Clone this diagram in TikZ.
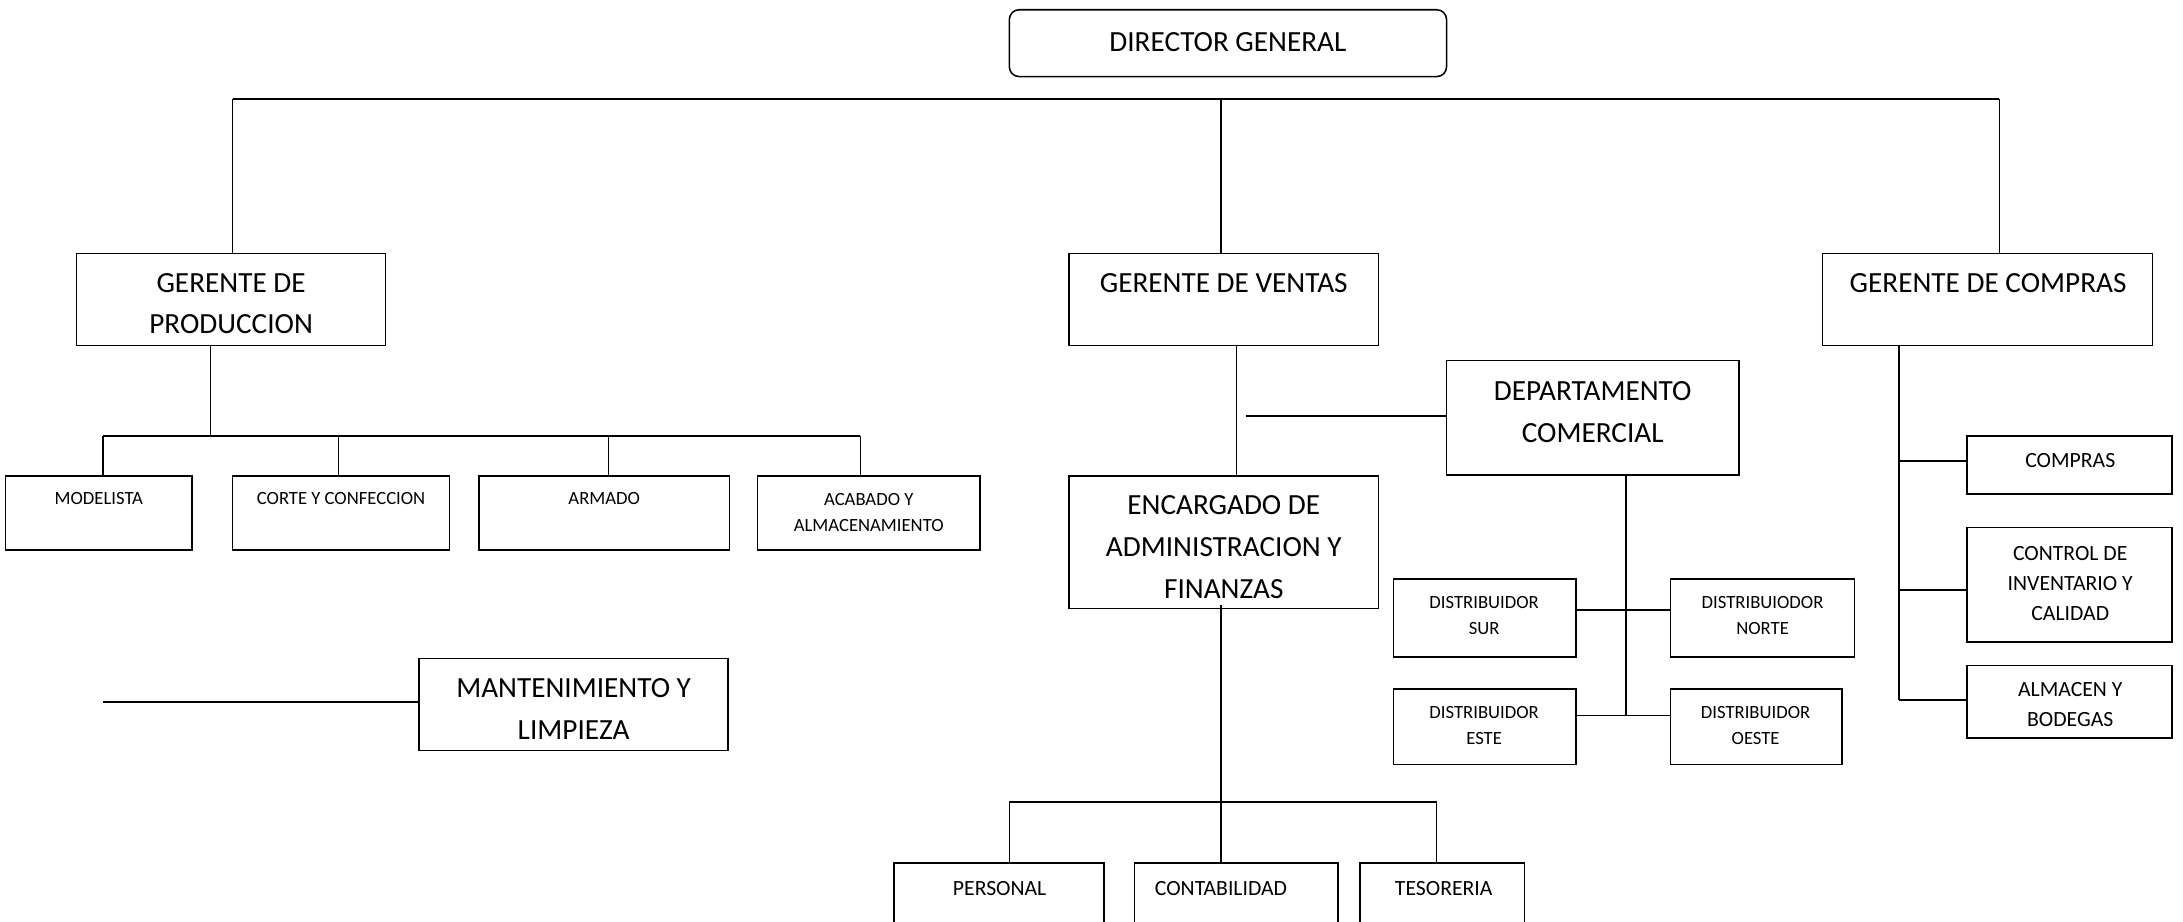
\documentclass[tikz,border=0pt]{standalone}
\usepackage{fontspec}
\setmainfont{Carlito}
\newcommand{\bigf}{\fontsize{21}{30}\selectfont}
\newcommand{\medf}{\fontsize{15.6}{21.5}\selectfont}
\newcommand{\smlf}{\fontsize{13.4}{19}\selectfont}
\begin{document}
\begin{tikzpicture}[x=1pt,y=-1pt,
  box/.style={draw, line width=1.1pt, inner sep=0pt},
  txt/.style={inner sep=0pt, align=center},
  conn/.style={line width=1pt},
  hconn/.style={line width=1.2pt}]
\useasboundingbox (0,0) rectangle (1568,662);
\clip (0,0) rectangle (1568,662);
\fill[white] (0,0) rectangle (1568,662);

% boxes
\node[box, rounded corners=7pt, minimum width=314pt, minimum height=48pt] (dir) at (882,31) {};
\node[txt, font=\bigf] (dir-t) at (882,30) {DIRECTOR GENERAL};

\node[box, minimum width=222pt, minimum height=66pt] (gprod) at (166,215) {};
\node[txt, font=\bigf] (gprod-t) at (166,218) {GERENTE DE\\PRODUCCION};
\node[box, minimum width=222pt, minimum height=66pt] (gven) at (879,215) {};
\node[txt, font=\bigf] (gven-t) at (879,203) {GERENTE DE VENTAS};
\node[box, minimum width=237pt, minimum height=66pt] (gcom) at (1427.5,215) {};
\node[txt, font=\bigf] (gcom-t) at (1428,203) {GERENTE DE COMPRAS};

\node[box, minimum width=134pt, minimum height=53pt] (mod) at (71,368.5) {};
\node[txt, font=\smlf] (mod-t) at (71,358) {MODELISTA};
\node[box, minimum width=156pt, minimum height=53pt] (cor) at (245,368.5) {};
\node[txt, font=\smlf] (cor-t) at (245,358) {CORTE Y CONFECCION};
\node[box, minimum width=180pt, minimum height=53pt] (arm) at (434,368.5) {};
\node[txt, font=\smlf] (arm-t) at (434,358) {ARMADO};
\node[box, minimum width=160pt, minimum height=53pt] (aca) at (624,368.5) {};
\node[txt, font=\smlf] (aca-t) at (624,368) {ACABADO Y\\ALMACENAMIENTO};

\node[box, minimum width=222pt, minimum height=66pt] (mant) at (412,506) {};
\node[txt, font=\bigf] (mant-t) at (412,509) {MANTENIMIENTO Y\\LIMPIEZA};

\node[box, minimum width=210pt, minimum height=82pt] (dep) at (1144,300) {};
\node[txt, font=\bigf] (dep-t) at (1144,296) {DEPARTAMENTO\\COMERCIAL};

\node[box, minimum width=222pt, minimum height=95pt] (enc) at (879,389.5) {};
\node[txt, font=\bigf] (enc-t) at (879,393) {ENCARGADO DE\\ADMINISTRACION Y\\FINANZAS};

\node[box, minimum width=151pt, minimum height=70pt] (per) at (717.5,655) {};
\node[txt, font=\medf] (per-t) at (718,638) {PERSONAL};
\node[box, minimum width=146pt, minimum height=70pt] (con) at (888,655) {};
\node[txt, font=\medf] (con-t) at (877,638) {CONTABILIDAD};
\node[box, minimum width=118pt, minimum height=70pt] (tes) at (1036,655) {};
\node[txt, font=\medf] (tes-t) at (1037,638) {TESORERIA};

\node[box, minimum width=131pt, minimum height=56pt] (sur) at (1066.5,444) {};
\node[txt, font=\smlf] (sur-t) at (1066,442) {DISTRIBUIDOR\\SUR};
\node[box, minimum width=132pt, minimum height=56pt] (nor) at (1266,444) {};
\node[txt, font=\smlf] (nor-t) at (1266,442) {DISTRIBUIODOR\\NORTE};
\node[box, minimum width=131pt, minimum height=54pt] (est) at (1066.5,522) {};
\node[txt, font=\smlf] (est-t) at (1066,521) {DISTRIBUIDOR\\ESTE};
\node[box, minimum width=123pt, minimum height=54pt] (oes) at (1261.5,522) {};
\node[txt, font=\smlf] (oes-t) at (1261,521) {DISTRIBUIDOR\\OESTE};

\node[box, minimum width=147pt, minimum height=42pt] (comp) at (1486.5,334) {};
\node[txt, font=\medf] (comp-t) at (1487,331) {COMPRAS};
\node[box, minimum width=147pt, minimum height=82pt] (ctrl) at (1486.5,420) {};
\node[txt, font=\medf] (ctrl-t) at (1487,419) {CONTROL DE\\INVENTARIO Y\\CALIDAD};
\node[box, minimum width=147pt, minimum height=52pt] (alm) at (1486.5,504) {};
\node[txt, font=\medf] (alm-t) at (1487,506) {ALMACEN Y\\BODEGAS};

% connectors: top level
\coordinate (t1) at (167,71);
\coordinate (t2) at (1436,71);
\coordinate (t3) at (877,71);
\draw[hconn] (t1) -- (t2);
\draw[conn] (gprod.north -| t1) -- (t1);
\draw[conn] (gven.north -| t3) -- (t3);
\draw[conn] (gcom.north -| t2) -- (t2);

% produccion
\coordinate (p0) at (151,313);
\coordinate (pl) at (74,313);
\coordinate (pc) at (243,313);
\coordinate (pa) at (437,313);
\coordinate (pr) at (618,313);
\draw[conn] (gprod.south -| p0) -- (p0);
\draw[hconn] (pl) -- (pr);
\draw[conn] (pl) -- (mod.north -| pl);
\draw[conn] (pc) -- (cor.north -| pc);
\draw[conn] (pa) -- (arm.north -| pa);
\draw[conn] (pr) -- (aca.north -| pr);

% mantenimiento
\coordinate (m0) at (74,504);
\draw[hconn] (m0) -- (m0 -| mant.west);

% ventas
\coordinate (v1) at (888,300);
\draw[conn] (gven.south -| v1) -- (enc.north -| v1);
\coordinate (d0) at (895,299);
\draw[hconn] (d0) -- (d0 -| dep.west);
\coordinate (dv) at (1168,514);
\coordinate (h1) at (1168,438);
\draw[conn] (dep.south -| dv) -- (dv);
\draw[hconn] (sur.east |- h1) -- (nor.west |- h1);
\draw[hconn] (est.east |- dv) -- (oes.west |- dv);

% administracion
\coordinate (e1) at (877,576);
\coordinate (el) at (725,576);
\coordinate (er) at (1032,576);
\draw[conn] ([yshift=3pt]enc.south -| e1) -- (con.north -| e1);
\draw[hconn] (el) -- (er);
\draw[conn] (el) -- (per.north -| el);
\draw[conn] (er) -- (tes.north -| er);

% compras
\coordinate (c1) at (1364,503);
\coordinate (c2) at (1364,331);
\coordinate (c3) at (1364,424);
\draw[conn] (gcom.south -| c1) -- (c1);
\draw[hconn] (c1) -- (c1 -| alm.west);
\draw[hconn] (c2) -- (c2 -| comp.west);
\draw[hconn] (c3) -- (c3 -| ctrl.west);
\end{tikzpicture}
\end{document}
